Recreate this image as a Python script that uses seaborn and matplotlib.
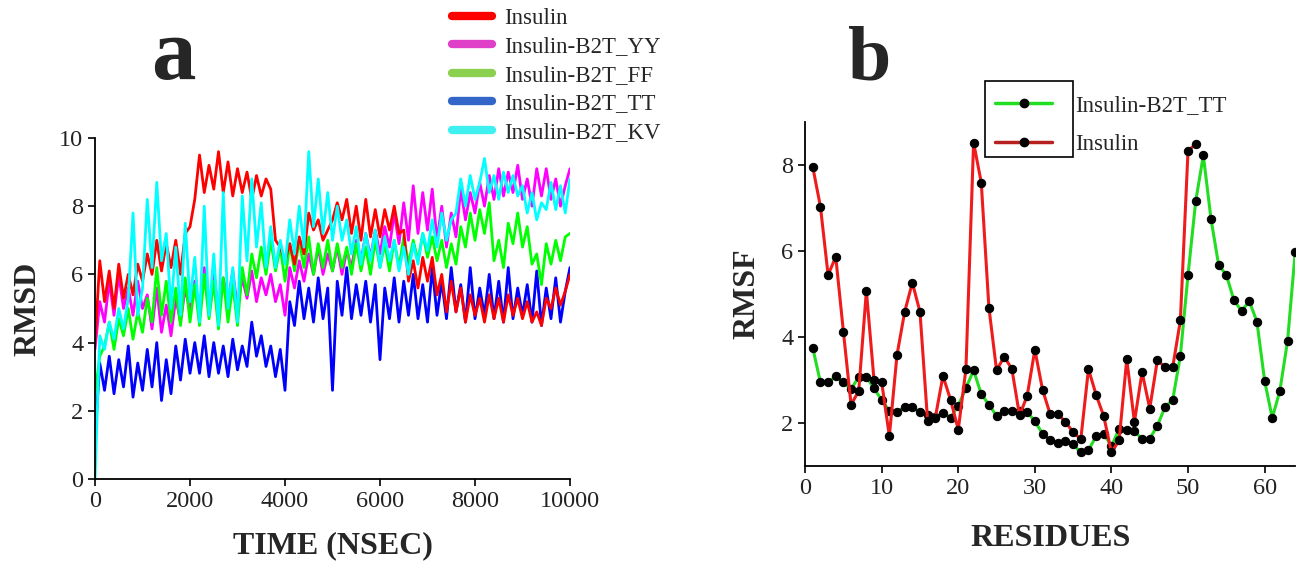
import numpy as np
import pandas as pd
import matplotlib
matplotlib.use("Agg")
import matplotlib.pyplot as plt
import seaborn as sns
from matplotlib.lines import Line2D
from matplotlib.patches import Rectangle

# ---- panel a : RMSD vs time (read every 100 ns, upper/lower edge of the noisy band)
time_ns = np.arange(0, 10001, 100)

rmsd_insulin = [4.0, 6.4, 5.2, 6.1, 5.0, 6.3, 5.3, 6.0, 5.4, 6.3,
                5.8, 6.6, 6.0, 7.0, 6.1, 6.9, 6.2, 7.0, 6.0, 7.2,
                7.4, 8.2, 9.5, 8.4, 9.2, 8.5, 9.6, 8.4, 9.3, 8.3,
                9.1, 8.4, 9.0, 8.2, 8.9, 8.3, 8.8, 8.5, 7.0, 6.8,
                6.4, 6.9, 6.3, 7.1, 6.6, 7.8, 7.3, 7.6, 7.0, 7.3,
                7.6, 8.1, 7.6, 8.2, 7.2, 8.0, 7.0, 8.2, 7.1, 7.9,
                7.1, 7.9, 7.3, 8.0, 7.2, 7.3, 5.8, 6.4, 5.6, 6.5,
                5.8, 6.5, 5.4, 6.0, 4.9, 5.8, 4.9, 5.6, 4.6, 5.4,
                4.8, 5.3, 4.6, 5.4, 4.7, 5.3, 4.6, 5.4, 4.8, 5.3,
                4.7, 5.2, 4.6, 4.9, 4.5, 5.3, 5.0, 5.6, 5.1, 5.5,
                6.0]

rmsd_yy = [3.8, 5.2, 4.6, 5.8, 4.8, 6.0, 5.0, 5.6, 4.8, 5.8,
           5.0, 5.4, 4.4, 5.6, 4.3, 5.1, 4.2, 5.3, 4.6, 5.6,
           4.9, 5.8, 5.0, 6.2, 5.1, 6.0, 5.0, 5.9, 5.2, 6.1,
           5.0, 5.9, 5.3, 6.1, 5.2, 5.9, 5.4, 6.0, 5.2, 5.7,
           4.8, 6.2, 5.6, 6.4, 5.8, 6.6, 6.0, 6.8, 6.0, 6.6,
           6.1, 6.8, 6.0, 6.7, 6.2, 7.0, 6.4, 7.2, 6.5, 7.3,
           6.6, 7.4, 6.8, 7.8, 6.9, 8.1, 7.0, 8.6, 7.2, 8.4,
           7.3, 8.5, 7.0, 8.0, 6.8, 7.8, 7.1, 8.5, 7.6, 8.4,
           7.8, 8.7, 8.0, 8.9, 8.2, 9.1, 8.3, 9.0, 8.4, 9.2,
           8.2, 8.8, 8.0, 9.1, 8.3, 9.1, 8.2, 8.8, 8.0, 8.6,
           9.1]

rmsd_ff = [2.5, 3.6, 3.9, 4.6, 3.8, 4.7, 4.2, 5.0, 4.1, 4.9,
           4.3, 5.3, 4.6, 6.2, 4.8, 5.8, 4.6, 5.6, 4.5, 5.9,
           4.6, 5.7, 4.5, 6.0, 4.7, 5.8, 4.4, 5.9, 4.6, 5.7,
           4.5, 6.2, 5.4, 6.6, 5.9, 6.8, 6.0, 7.0, 6.1, 6.8,
           5.8, 6.9, 6.1, 7.0, 6.2, 7.1, 6.0, 6.9, 6.2, 7.0,
           6.1, 6.9, 6.2, 6.8, 6.0, 6.9, 6.1, 6.8, 6.0, 7.0,
           6.2, 6.9, 6.1, 7.0, 6.2, 7.1, 6.3, 7.0, 6.4, 7.2,
           6.5, 7.1, 6.4, 7.0, 6.2, 6.9, 6.3, 7.4, 6.8, 7.8,
           7.0, 7.9, 7.2, 8.1, 6.4, 7.0, 6.2, 7.5, 6.9, 7.8,
           6.8, 7.4, 6.3, 6.6, 5.7, 6.9, 6.3, 7.0, 6.4, 7.1,
           7.2]

rmsd_tt = [1.2, 3.4, 2.6, 3.6, 2.5, 3.5, 2.7, 3.9, 2.4, 3.4,
           2.6, 3.8, 2.7, 4.0, 2.3, 3.5, 2.5, 3.9, 2.9, 4.1,
           3.1, 4.0, 3.1, 4.2, 3.0, 4.0, 3.1, 3.9, 3.0, 4.1,
           3.2, 3.9, 3.3, 4.6, 3.6, 4.2, 3.3, 3.9, 3.0, 3.8,
           2.6, 5.2, 4.5, 5.8, 4.7, 5.6, 4.6, 5.9, 4.7, 5.6,
           2.6, 5.8, 4.8, 6.2, 4.7, 5.7, 4.8, 5.8, 4.6, 5.7,
           3.5, 5.6, 4.7, 5.9, 4.6, 5.8, 4.8, 6.0, 4.7, 5.7,
           4.6, 6.2, 4.8, 5.8, 4.7, 6.2, 4.9, 5.7, 4.6, 6.2,
           4.7, 5.6, 4.8, 6.0, 4.7, 5.8, 4.6, 6.2, 4.7, 5.6,
           4.8, 5.7, 4.6, 6.1, 4.5, 5.6, 4.7, 5.9, 4.6, 5.5,
           6.2]

rmsd_kv = [0.0, 4.2, 3.8, 4.6, 4.1, 5.0, 4.4, 5.3, 7.8, 4.8,
           5.6, 8.2, 6.2, 8.7, 6.4, 7.2, 5.0, 6.8, 4.8, 7.5,
           5.2, 6.5, 4.6, 8.0, 4.8, 6.6, 4.5, 8.4, 5.0, 6.2,
           4.6, 8.3, 6.4, 8.8, 6.8, 8.1, 6.2, 7.4, 6.2, 7.0,
           6.3, 7.6, 6.6, 8.0, 6.8, 9.6, 7.4, 8.8, 7.2, 8.4,
           7.0, 8.0, 7.0, 7.6, 6.6, 7.4, 6.3, 7.2, 6.4, 7.3,
           6.2, 7.1, 6.4, 7.0, 6.1, 6.8, 6.0, 6.9, 6.3, 7.2,
           6.7, 7.6, 6.8, 7.8, 7.0, 7.6, 7.8, 8.8, 8.0, 8.9,
           8.2, 8.7, 9.4, 8.4, 8.9, 8.2, 9.0, 8.4, 8.9, 8.3,
           8.6, 7.8, 8.4, 7.6, 8.1, 7.9, 8.7, 7.9, 8.6, 7.8,
           8.8]

legend_names = ["Insulin", "Insulin-B2T_YY", "Insulin-B2T_FF",
                "Insulin-B2T_TT", "Insulin-B2T_KV"]
line_colors = {"Insulin": "#ff0000", "Insulin-B2T_YY": "#ff00ff",
               "Insulin-B2T_FF": "#00ff00", "Insulin-B2T_TT": "#0000ff",
               "Insulin-B2T_KV": "#00ffff"}
legend_colors = ["#ff0000", "#e040c8", "#8cd050", "#3366c8", "#40f0f0"]
draw_order = ["Insulin-B2T_TT", "Insulin-B2T_YY", "Insulin-B2T_FF",
              "Insulin", "Insulin-B2T_KV"]

# ---- panel b : RMSF per residue
res_insulin = np.arange(1, 52)
rmsf_insulin = [7.95, 7.03, 5.44, 5.86, 4.12, 2.42, 2.74, 5.07, 2.99, 2.94,
                1.69, 3.58, 4.58, 5.26, 4.58, 2.03, 2.12, 3.09, 2.53, 1.84,
                3.25, 8.52, 7.59, 4.68, 3.22, 3.54, 3.25, 2.17, 2.63, 3.70,
                2.77, 2.20, 2.20, 2.02, 1.78, 1.62, 3.25, 2.65, 2.15, 1.31,
                1.59, 3.48, 2.02, 3.18, 2.33, 3.46, 3.29, 3.29, 4.38, 8.33,
                8.48]
res_tt = np.arange(1, 65)
rmsf_tt = [3.74, 2.94, 2.94, 3.08, 2.94, 2.78, 3.07, 3.07, 2.80, 2.53,
           2.28, 2.26, 2.36, 2.36, 2.24, 2.18, 2.14, 2.22, 2.12, 2.40,
           2.81, 3.22, 2.67, 2.42, 2.16, 2.28, 2.28, 2.28, 2.26, 2.03,
           1.75, 1.60, 1.53, 1.58, 1.50, 1.31, 1.36, 1.69, 1.75, 1.45,
           1.86, 1.84, 1.80, 1.63, 1.63, 1.93, 2.37, 2.53, 3.56, 5.44,
           7.15, 8.22, 6.74, 5.67, 5.44, 4.85, 4.60, 4.83, 4.35, 2.98,
           2.11, 2.75, 3.91, 5.98]

sns.set_style("white")
plt.rcParams["font.family"] = ["Liberation Serif", "DejaVu Serif"]

fig = plt.figure(figsize=(13.07, 5.75), dpi=100)
ax_a = fig.add_axes([0.0727, 0.167, 0.3634, 0.593])
ax_b = fig.add_axes([0.616, 0.19, 0.375, 0.598])

df_a = pd.DataFrame({
    "time": np.tile(time_ns, 5),
    "rmsd": np.concatenate([rmsd_insulin, rmsd_yy, rmsd_ff, rmsd_tt, rmsd_kv]),
    "system": np.repeat(legend_names, len(time_ns)),
})
sns.lineplot(data=df_a, x="time", y="rmsd", hue="system", hue_order=draw_order,
             palette=line_colors, lw=2.0, legend=False, estimator=None,
             sort=False, ax=ax_a)

ax_a.set_xlim(0, 10000)
ax_a.set_ylim(0, 10)
ax_a.set_xticks(range(0, 10001, 2000))
ax_a.set_yticks(range(0, 11, 2))
ax_a.set_xlabel("TIME (NSEC)", fontsize=23, fontweight="bold", labelpad=14)
ax_a.set_ylabel("RMSD", fontsize=23, fontweight="bold", labelpad=12)

df_b = pd.DataFrame({
    "residue": np.concatenate([res_tt, res_insulin]),
    "rmsf": np.concatenate([rmsf_tt, rmsf_insulin]),
    "system": ["Insulin-B2T_TT"] * len(res_tt) + ["Insulin"] * len(res_insulin),
})
sns.lineplot(data=df_b, x="residue", y="rmsf", hue="system",
             hue_order=["Insulin-B2T_TT", "Insulin"],
             palette={"Insulin-B2T_TT": "#22dd22", "Insulin": "#ee1c1c"},
             lw=2.2, marker="o", markersize=6, mfc="black", mec="black",
             legend=False, estimator=None, ax=ax_b)

ax_b.set_xlim(0, 64)
ax_b.set_ylim(1, 9)
ax_b.set_xticks(range(0, 61, 10))
ax_b.set_yticks([2, 4, 6, 8])
ax_b.set_xlabel("RESIDUES", fontsize=23, fontweight="bold", labelpad=18)
ax_b.set_ylabel("RMSF", fontsize=23, fontweight="bold", labelpad=14)

for ax in (ax_a, ax_b):
    sns.despine(ax=ax)
    for s in ("left", "bottom"):
        ax.spines[s].set_color("black")
        ax.spines[s].set_linewidth(1.3)
    ax.tick_params(direction="out", length=5, width=1.2, colors="black",
                   labelsize=17.5, labelcolor="#222222", left=True, bottom=True)

# legends
handles_a = [Line2D([], [], color=c, lw=6) for c in legend_colors]
fig.legend(handles_a, legend_names, loc="upper left",
           bbox_to_anchor=(0.337, 1.006), frameon=False, fontsize=16.5,
           handlelength=1.75, handletextpad=0.55, labelspacing=0.32,
           borderpad=0.0)

handles_b = [Line2D([], [], color="#22dd22", lw=2.5, marker="o", ms=6,
                    mfc="black", mec="black"),
             Line2D([], [], color="#b82020", lw=2.5, marker="o", ms=6,
                    mfc="black", mec="black")]
fig.legend(handles_b, ["Insulin-B2T_TT", "Insulin"], loc="upper left",
           bbox_to_anchor=(0.749, 0.862), frameon=False, fontsize=16.5,
           handlelength=2.5, handletextpad=1.0, labelspacing=0.75,
           borderpad=0.2)
fig.add_artist(Rectangle((985 / 1307, 1 - 157 / 575), 88 / 1307, 76 / 575,
                         transform=fig.transFigure, fill=False, lw=1.2,
                         ec="black"))

fig.text(173 / 1307, 1 - 79 / 575, "a", fontsize=64, fontweight="bold",
         ha="center", va="baseline")
fig.text(870 / 1307, 1 - 79 / 575, "b", fontsize=56, fontweight="bold",
         ha="center", va="baseline")

fig.savefig("out.png", dpi=100)
